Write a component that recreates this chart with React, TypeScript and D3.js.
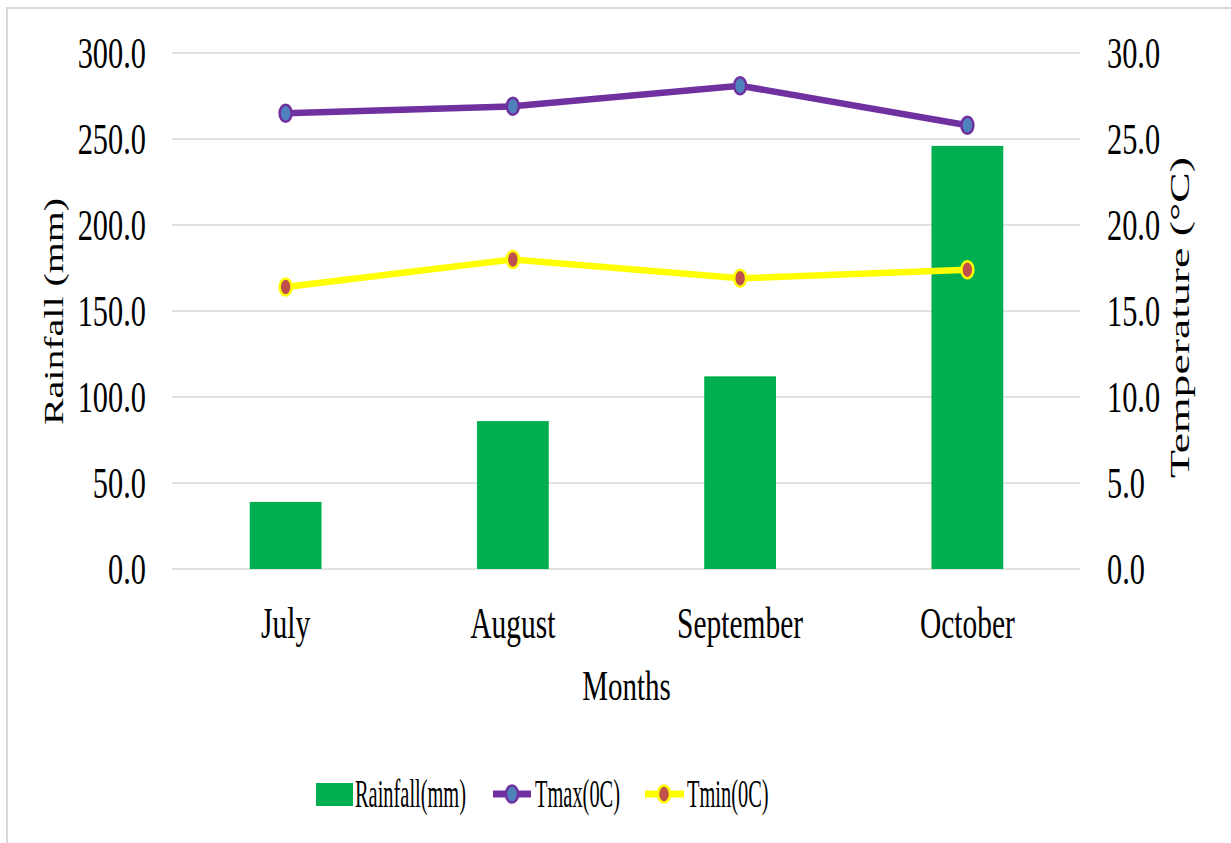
import React from 'react';
import * as d3 from 'd3';

const months = ['July', 'August', 'September', 'October'];
const rainfall = [39, 86, 112, 246];
const tmax = [26.5, 26.9, 28.1, 25.8];
const tmin = [16.4, 18.0, 16.9, 17.4];
const rainTicks = [0, 50, 100, 150, 200, 250, 300];
const tempTicks = [0, 5, 10, 15, 20, 25, 30];

const W = 1231;
const H = 843;
const FONT = '"Liberation Serif", "Times New Roman", serif';

const GREEN = '#00B050';
const PURPLE = '#7030A0';
const BLUE = '#4F81BD';
const YELLOW = '#FFFF00';
const RED = '#C0504D';

const App = () => {
    const left = 172;
    const right = 1081;
    const top = 53;
    const bottom = 569;

    const x = d3.scaleBand<string>()
        .domain(months)
        .range([left, right])
        .paddingInner(0.684)
        .paddingOuter(0.342);

    const yRain = d3.scaleLinear().domain([0, 300]).range([bottom, top]);
    const yTemp = d3.scaleLinear().domain([0, 30]).range([bottom, top]);

    const cx = (m: string) => (x(m) as number) + x.bandwidth() / 2;

    const line = d3.line<number>()
        .x((_, i) => cx(months[i]))
        .y(d => yTemp(d));

    const marker = (px: number, py: number, fill: string, stroke: string, key: string) => (
        <ellipse key={key} cx={px} cy={py} rx={6} ry={8.5} fill={fill} stroke={stroke} strokeWidth={2.5} />
    );

    return (
        <svg width={W} height={H} style={{ position: 'absolute', left: 0, top: 0, background: '#fff' }}
            fontFamily={FONT}>
            <rect x={7} y={8} width={1260} height={880} fill="#fff" stroke="#d9d9d9" strokeWidth={2} />

            {/* gridlines */}
            {rainTicks.map(t => (
                <line key={'g' + t} x1={left} x2={right - 1} y1={yRain(t)} y2={yRain(t)}
                    stroke="#d9d9d9" strokeWidth={1.5} />
            ))}

            {/* left ticks */}
            {rainTicks.map(t => (
                <text key={'l' + t} transform={`translate(146,${yRain(t) + 15}) scale(0.69,1)`}
                    textAnchor="end" fontSize={44} fill="#000">{t.toFixed(1)}</text>
            ))}

            {/* right ticks */}
            {tempTicks.map(t => (
                <text key={'r' + t} transform={`translate(1107,${yTemp(t) + 15}) scale(0.69,1)`}
                    textAnchor="start" fontSize={44} fill="#000">{t.toFixed(1)}</text>
            ))}

            {/* bars */}
            {months.map((m, i) => (
                <rect key={'b' + m} x={x(m)} y={yRain(rainfall[i])} width={x.bandwidth()}
                    height={yRain(0) - yRain(rainfall[i])} fill={GREEN} />
            ))}

            {/* lines */}
            <path d={line(tmin) || ''} fill="none" stroke={YELLOW} strokeWidth={6.5} />
            <path d={line(tmax) || ''} fill="none" stroke={PURPLE} strokeWidth={6.5} />
            {tmin.map((v, i) => marker(cx(months[i]), yTemp(v), RED, YELLOW, 'mn' + i))}
            {tmax.map((v, i) => marker(cx(months[i]), yTemp(v), BLUE, PURPLE, 'mx' + i))}

            {/* month labels */}
            {months.map(m => (
                <text key={'m' + m} transform={`translate(${cx(m)},638) scale(0.67,1)`}
                    textAnchor="middle" fontSize={44} fill="#000">{m}</text>
            ))}

            {/* axis titles */}
            <text transform={`translate(${(left + right) / 2},700) scale(0.69,1)`}
                textAnchor="middle" fontSize={42} fill="#000">Months</text>
            <text transform="translate(63,311.5) rotate(-90)" textAnchor="middle" fontSize={27.5}
                textLength={227} lengthAdjust="spacingAndGlyphs" fill="#000">Rainfall (mm)</text>
            <text transform="translate(1189,317.5) rotate(-90)" textAnchor="middle" fontSize={27.5}
                textLength={321} lengthAdjust="spacingAndGlyphs" fill="#000">Temperature (°C)</text>

            {/* legend */}
            <g>
                <rect x={316} y={783} width={37} height={23} fill={GREEN} />
                <text transform="translate(355,807) scale(0.51,1)" fontSize={40} fill="#000">Rainfall(mm)</text>

                <line x1={493} x2={531} y1={794} y2={794} stroke={PURPLE} strokeWidth={7} />
                {marker(512, 794, BLUE, PURPLE, 'lg1')}
                <text transform="translate(535,807) scale(0.51,1)" fontSize={40} fill="#000">Tmax(0C)</text>

                <line x1={645} x2={684} y1={794} y2={794} stroke={YELLOW} strokeWidth={7} />
                {marker(664, 794, RED, YELLOW, 'lg2')}
                <text transform="translate(687,807) scale(0.51,1)" fontSize={40} fill="#000">Tmin(0C)</text>
            </g>
        </svg>
    );
};

export default App;
